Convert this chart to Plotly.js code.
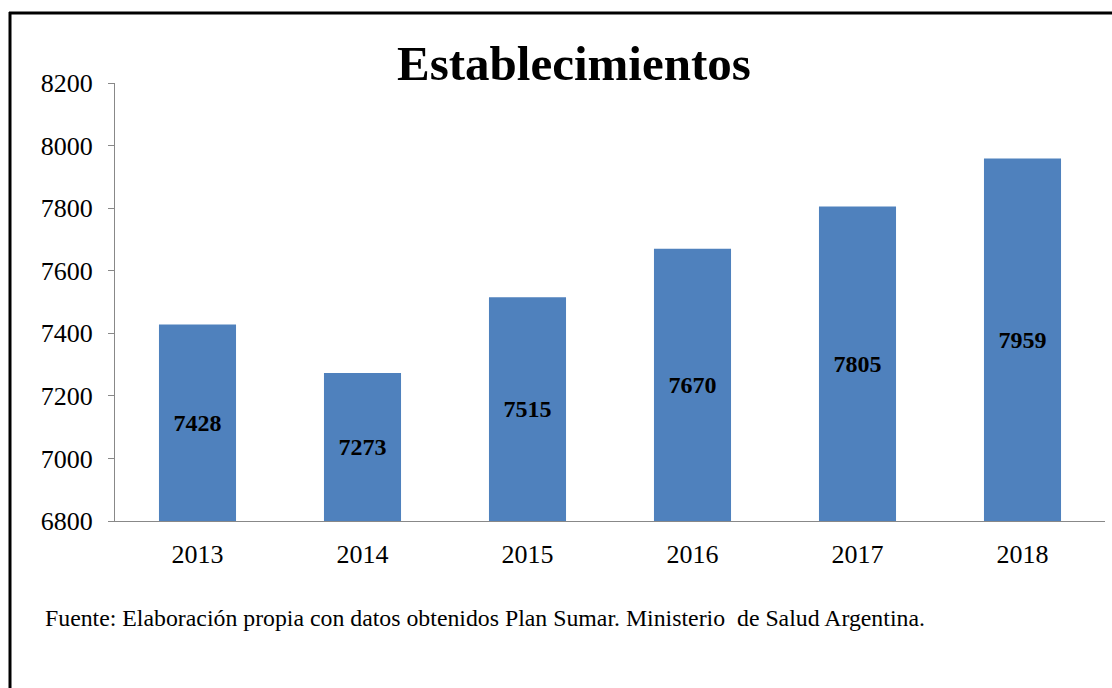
<!DOCTYPE html>
<html>
<head>
<meta charset="utf-8">
<script src="https://cdn.plot.ly/plotly-3.0.1.min.js"></script>
<style>html,body{margin:0;padding:0;background:#fff;}#chart{width:1112px;height:688px;}</style>
</head>
<body>
<div id="chart"></div>
<script>
const years = ["2013", "2014", "2015", "2016", "2017", "2018"];
const establecimientos = [7428, 7273, 7515, 7670, 7805, 7959];
const yTicks = [6800, 7000, 7200, 7400, 7600, 7800, 8000, 8200];
const axisBase = 6800;
const titleText = "Establecimientos";
const sourceText = "Fuente: Elaboración propia con datos obtenidos Plan Sumar. Ministerio\u00a0 de Salud Argentina.";

const serif = "Liberation Serif, Times New Roman, serif";

const trace = {
  type: "bar",
  x: years,
  y: establecimientos.map(v => v - axisBase),
  base: axisBase,
  marker: {color: "#4F81BD", line: {width: 0}},
  text: establecimientos.map(String),
  textposition: "inside",
  insidetextanchor: "middle",
  textangle: 0,
  textfont: {family: serif, size: 24, color: "#000", weight: "bold"},
  hoverinfo: "x+text"
};

const W = 1112, H = 688;
const layout = {
  width: W, height: H,
  margin: {l: 115, r: 7, t: 83, b: 167},
  paper_bgcolor: "#fff",
  plot_bgcolor: "#fff",
  showlegend: false,
  bargap: 0.533,
  xaxis: {
    type: "category",
    showline: true, linecolor: "#888", linewidth: 1,
    ticks: "", showgrid: false, zeroline: false,
    tickfont: {family: serif, size: 26, color: "#000"},
    ticklabelstandoff: 10
  },
  yaxis: {
    range: [6800, 8200],
    tickvals: yTicks,
    ticktext: yTicks.map(String),
    showline: true, linecolor: "#888", linewidth: 1,
    ticks: "outside", ticklen: 6, tickcolor: "#888",
    showgrid: false, zeroline: false,
    tickfont: {family: serif, size: 26, color: "#000"},
    ticklabelstandoff: 10
  },
  annotations: [
    {text: titleText, xref: "paper", yref: "paper",
     x: (574 - 115) / 990, y: 1 + (83 - 63) / 438, xanchor: "center", yanchor: "middle",
     showarrow: false, font: {family: serif, size: 49, color: "#000", weight: "bold"}},
    {text: sourceText, xref: "paper", yref: "paper",
     x: (43 - 115) / 990, y: -(618 - 521) / 438, xanchor: "left", yanchor: "middle",
     showarrow: false, font: {family: serif, size: 23.8, color: "#000"}}
  ],
  shapes: [
    {type: "line", xref: "paper", yref: "paper",
     x0: (9 - 115) / 990, x1: (W - 115) / 990, y0: 1 + (83 - 13) / 438, y1: 1 + (83 - 13) / 438,
     line: {color: "#000", width: 3}},
    {type: "line", xref: "paper", yref: "paper",
     x0: (10 - 115) / 990, x1: (10 - 115) / 990, y0: 1 + (83 - 12) / 438, y1: -(H - 521) / 438,
     line: {color: "#000", width: 3}}
  ]
};

Plotly.newPlot("chart", [trace], layout, {displayModeBar: false, staticPlot: true});
</script>
</body>
</html>
